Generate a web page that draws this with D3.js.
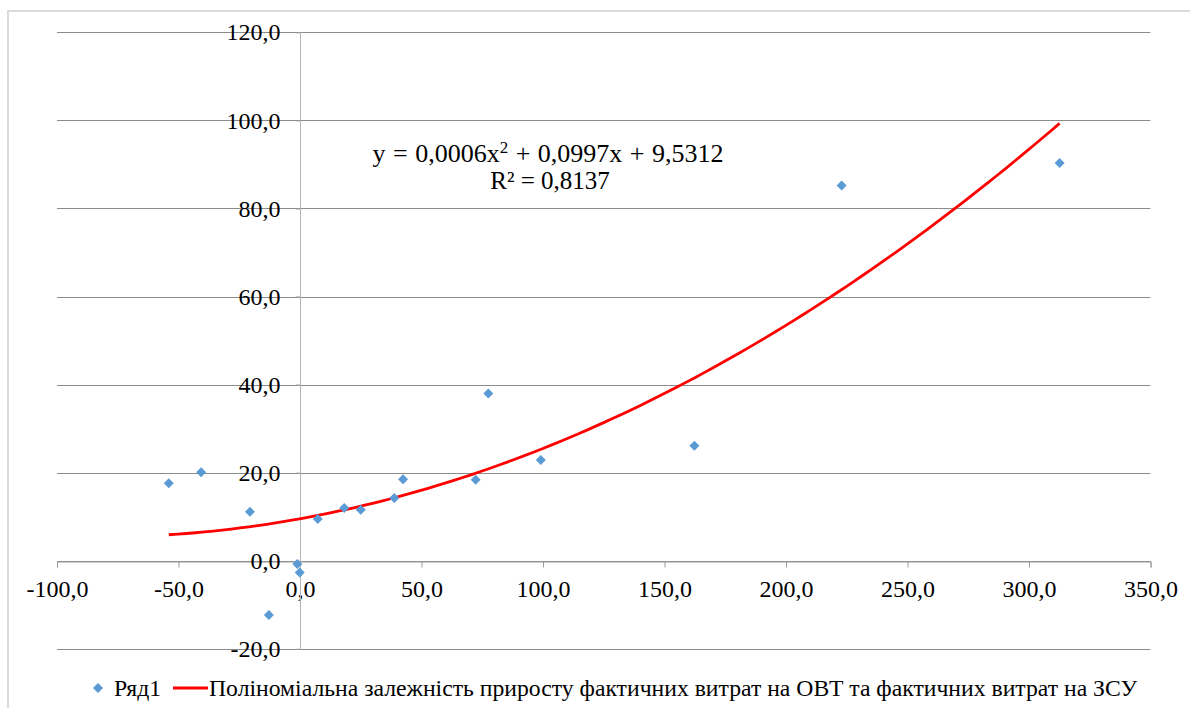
<!DOCTYPE html>
<html>
<head>
<meta charset="utf-8">
<script src="https://cdn.jsdelivr.net/npm/d3@7"></script>
<style>
  body { margin: 0; background: #fff; }
  svg { display: block; }
  text { font-family: "Liberation Serif", "Times New Roman", serif; fill: #000; }
</style>
</head>
<body>
<div id="chart"></div>
<script>
// data
var xValues = [-54.0, -40.7, -20.6, -12.8, -1.1, -0.1, 7.3, 18.2, 25.0, 38.8, 42.4, 72.3, 77.5, 99.1, 162.3, 222.9, 312.6];
var yValues = [17.6, 20.1, 11.1, -12.3, -0.75, -2.7, 9.5, 12.0, 11.6, 14.25, 18.5, 18.4, 37.95, 22.9, 26.1, 85.2, 90.3];
var xTicks = [-100, -50, 0, 50, 100, 150, 200, 250, 300, 350];
var yTicks = [-20, 0, 20, 40, 60, 80, 100, 120];
// trend line coefficients as shown in the chart (c2, c1, c0)
var trendCoef = [0.0006, 0.0997, 9.5312];
var seriesName = "Ряд1";
var trendName = "Поліноміальна залежність приросту фактичних витрат на ОВТ та фактичних витрат на ЗСУ";
// first equation line is split around the superscript 2
var eqLine1 = ["y = 0,0006x", "2", " + 0,0997x + 9,5312"];
var eqLine2 = "R² = 0,8137";

var points = xValues.map(function (x, i) { return { x: x, y: yValues[i] }; });

var W = 1190, H = 708;
var fmt = function (v) { return d3.format(".1f")(v).replace(".", ",").replace("−", "-"); };

var svg = d3.select("#chart").append("svg")
    .attr("width", W)
    .attr("height", H);

// chart frame
svg.append("rect")
    .attr("x", 8).attr("y", 11)
    .attr("width", 1200).attr("height", 720)
    .attr("fill", "none")
    .attr("stroke", "#d0d0d0")
    .attr("stroke-width", 1.5);

var xScale = d3.scaleLinear().domain([-100, 350]).range([57, 1150.5]);
var yScale = d3.scaleLinear().domain([-20, 120]).range([648.8, 32.3]);

// horizontal gridlines
svg.append("g").selectAll("line")
    .data(yTicks)
    .enter().append("line")
    .attr("x1", xScale(-100)).attr("x2", xScale(350))
    .attr("y1", function (d) { return Math.round(yScale(d)) + 0.5; })
    .attr("y2", function (d) { return Math.round(yScale(d)) + 0.5; })
    .attr("stroke", "#8c8c8c")
    .attr("stroke-width", 1);

// x axis at y = 0
var xAxis = d3.axisBottom(xScale).tickValues(xTicks).tickSize(6).tickFormat(fmt);
var gx = svg.append("g")
    .attr("transform", "translate(0," + (Math.round(yScale(0)) + 0.5) + ")")
    .call(xAxis);
gx.select(".domain").attr("stroke", "#9a9a9a");
gx.selectAll(".tick line").attr("stroke", "#9a9a9a");
gx.selectAll(".tick text")
    .attr("y", 35).attr("dy", null)
    .style("font-size", "24px")
    .style("font-family", "'Liberation Serif', serif");

// y axis at x = 0
var yAxis = d3.axisLeft(yScale).tickValues(yTicks).tickSize(5).tickFormat(fmt);
var gy = svg.append("g")
    .attr("transform", "translate(" + (Math.round(xScale(0)) + 0.5) + ",0)")
    .call(yAxis);
gy.select(".domain").attr("stroke", "#b4b4b4").attr("d", "M0," + yScale(-20) + "V" + yScale(120));
gy.selectAll(".tick line").attr("stroke", "#9a9a9a");
gy.selectAll(".tick text")
    .attr("x", -20).attr("dy", "0.32em")
    .style("font-size", "24px")
    .style("font-family", "'Liberation Serif', serif");

// polynomial trend line over the data range
var xExt = d3.extent(xValues);
var trend = d3.range(0, 101).map(function (i) {
    var x = xExt[0] + (xExt[1] - xExt[0]) * i / 100;
    return { x: x, y: trendCoef[0] * x * x + trendCoef[1] * x + trendCoef[2] };
});
var line = d3.line()
    .x(function (d) { return xScale(d.x); })
    .y(function (d) { return yScale(d.y); });

svg.append("path")
    .datum(trend)
    .attr("d", line)
    .attr("fill", "none")
    .attr("stroke", "#ff0000")
    .attr("stroke-width", 2.8);

// markers
var diamond = d3.symbol().type(d3.symbolSquare).size(50);
svg.append("g").selectAll("path")
    .data(points)
    .enter().append("path")
    .attr("d", diamond)
    .attr("transform", function (d) { return "translate(" + xScale(d.x) + "," + yScale(d.y) + ") rotate(45)"; })
    .attr("fill", "#5b9bd5");

// equation label
var eq1 = svg.append("text")
    .attr("x", 548).attr("y", 162)
    .attr("text-anchor", "middle")
    .style("font-size", "26px")
    .style("word-spacing", "1px")
    .style("white-space", "pre");
eq1.append("tspan").text(eqLine1[0]);
eq1.append("tspan").attr("dy", -9).style("font-size", "17px").text(eqLine1[1]);
eq1.append("tspan").attr("dy", 9).text(eqLine1[2]);

svg.append("text")
    .attr("x", 550).attr("y", 189)
    .attr("text-anchor", "middle")
    .style("font-size", "25px")
    .text(eqLine2);

// legend
var leg = svg.append("g");
leg.append("path")
    .attr("d", diamond)
    .attr("transform", "translate(98,688) rotate(45)")
    .attr("fill", "#5b9bd5");
leg.append("text")
    .attr("x", 114).attr("y", 696)
    .style("font-size", "23.7px")
    .text(seriesName);
leg.append("line")
    .attr("x1", 173).attr("x2", 208)
    .attr("y1", 688).attr("y2", 688)
    .attr("stroke", "#ff0000")
    .attr("stroke-width", 2.8);
leg.append("text")
    .attr("x", 209).attr("y", 696)
    .style("font-size", "23.7px")
    .text(trendName);
</script>
</body>
</html>
